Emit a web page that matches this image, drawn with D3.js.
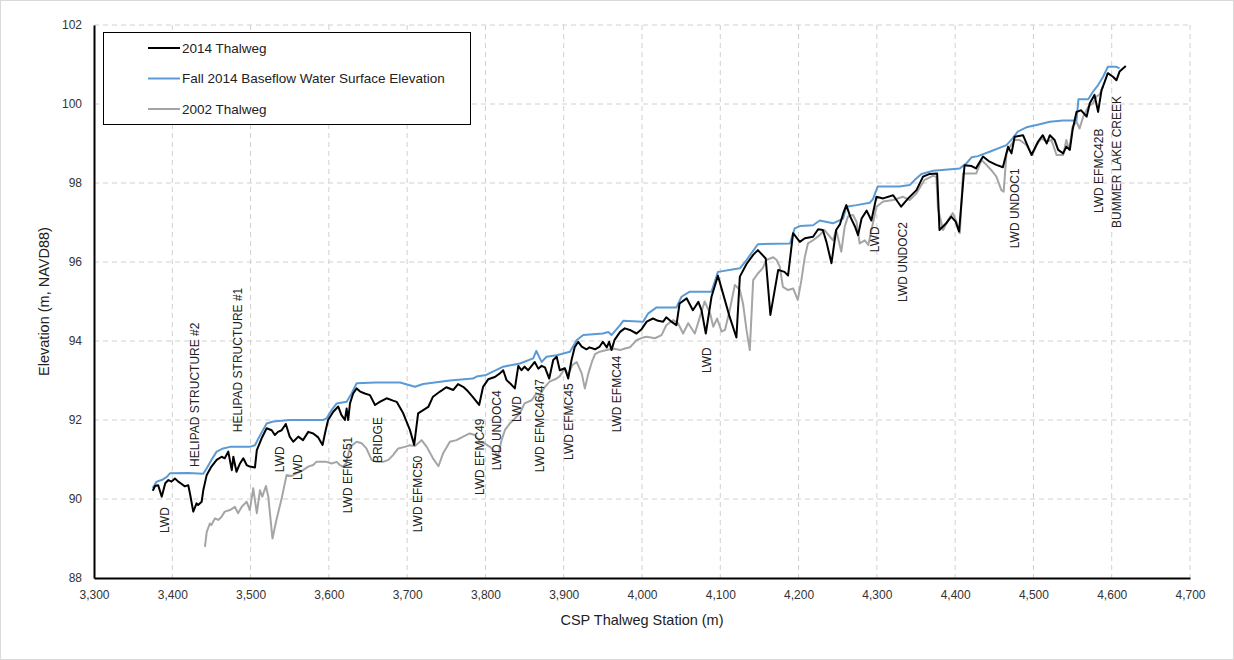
<!DOCTYPE html>
<html>
<head>
  <meta charset="utf-8">
  <title>Thalweg Profile</title>
  <style>
    body { margin: 0; background: #fff; }
    text { font-family: "Liberation Sans", Arial, sans-serif; fill: #222; }
    .grid line { stroke: #d0d0d0; stroke-width: 1; stroke-dasharray: 5,4; }
    .series { fill: none; stroke-width: 2; stroke-linejoin: round; }
    .tick-label { font-size: 12px; fill: #333; }
    .note { font-size: 12px; fill: #222; }
  </style>
</head>
<body>
  <div id="chart"></div>

  <script src="https://cdn.jsdelivr.net/npm/d3@7"></script>
  <script>
    // station (m), elevation (m)
    var thalweg2014 = [
      [3375,90.21],[3378,90.33],[3382,90.35],[3386.5,90.06],[3391,90.40],[3395,90.48],[3399,90.44],[3403.4,90.52],
      [3407.7,90.44],[3412,90.38],[3416,90.32],[3420.4,90.35],[3422.6,90.14],[3426.8,89.68],[3431,89.89],[3433,89.85],
      [3437.5,89.93],[3439.6,90.22],[3444,90.61],[3450,90.82],[3456.7,90.99],[3463,91.07],[3467,91.03],[3471.5,91.2],
      [3476,90.73],[3478,91.07],[3482,90.69],[3486.5,90.9],[3490.7,91.03],[3495,90.86],[3499,90.82],[3505.6,90.80],
      [3508,91.24],[3514,91.53],[3520.5,91.79],[3527,91.74],[3531,91.62],[3535,91.70],[3539.7,91.74],[3545,91.9],
      [3550,91.58],[3554.5,91.45],[3561,91.58],[3567,91.49],[3573.7,91.7],[3580,91.66],[3586.4,91.56],[3592,91.37],
      [3595,91.66],[3599,92.0],[3605.6,92.21],[3612,92.34],[3616,92.13],[3620.5,92.0],[3622.7,92.29],[3624.7,92.0],
      [3627,92.42],[3631,92.67],[3635.5,92.8],[3640,92.72],[3646,92.67],[3652.5,92.63],[3659,92.38],[3665,92.46],
      [3673.8,92.55],[3682,92.49],[3686.6,92.46],[3695,92.17],[3703.5,91.75],[3709,91.37],[3714,92.17],[3720.5,92.25],
      [3727,92.33],[3733,92.59],[3742,92.72],[3750,92.83],[3759,92.76],[3765,92.91],[3771.6,92.84],[3778,92.72],
      [3784,92.58],[3792,92.38],[3797,92.84],[3803.5,93.03],[3812,93.09],[3818.5,93.18],[3822.7,93.26],[3827,93.01],
      [3833.4,92.89],[3837.6,92.8],[3842,93.37],[3846,93.26],[3850,93.35],[3854.6,93.26],[3859,93.37],[3863,93.47],
      [3867.5,93.3],[3871.7,93.37],[3876,93.33],[3881.5,93.05],[3886.6,93.52],[3891,93.6],[3895,93.26],[3901.5,93.31],
      [3905.7,93.05],[3910,93.52],[3914,93.84],[3918.5,93.98],[3923,93.86],[3929,93.79],[3933,93.84],[3940,93.79],
      [3946,93.86],[3950,93.98],[3955,93.84],[3958,93.98],[3961,93.77],[3965,94.03],[3972,94.23],[3978,94.32],
      [3984.5,94.28],[3993,94.19],[3999.5,94.30],[4006,94.49],[4014,94.57],[4020.6,94.51],[4027,94.49],[4031,94.6],
      [4037.6,94.49],[4044,94.40],[4048,94.95],[4057,95.08],[4065,94.78],[4072,94.99],[4076,94.78],[4081.5,94.19],
      [4088.8,95.12],[4097,95.65],[4103.5,95.2],[4112,94.61],[4120.6,94.09],[4125,95.63],[4133.5,95.95],[4142,96.18],
      [4148,96.3],[4158,96.09],[4164,94.66],[4174,95.8],[4182,95.75],[4186.6,95.66],[4193,96.73],[4201.6,96.51],
      [4208,96.6],[4218.5,96.64],[4225,96.83],[4231,96.81],[4235.6,96.51],[4242,95.97],[4248,96.81],[4253,96.96],
      [4257,97.23],[4261,97.44],[4266,97.15],[4272,96.9],[4276,96.68],[4280.5,97.1],[4287,97.3],[4293,97.05],
      [4299.5,97.65],[4308,97.61],[4320.8,97.69],[4331,97.4],[4340,97.61],[4350.6,97.82],[4359,98.16],[4367.6,98.23],
      [4377,98.24],[4380,96.81],[4388.6,96.98],[4395,97.15],[4400.7,97.02],[4405,96.77],[4412,98.45],[4421,98.43],
      [4426.6,98.37],[4435.6,98.67],[4444,98.54],[4452.7,98.46],[4461,98.4],[4467.6,98.92],[4472,98.75],[4476,99.17],
      [4486.7,99.21],[4497.5,98.71],[4506,99.05],[4512,99.21],[4517,99.0],[4521,99.21],[4527,99.09],[4531.6,98.84],
      [4538,98.75],[4542,98.92],[4546.5,98.84],[4550,99.34],[4555,99.8],[4561,99.84],[4568,99.68],[4572,100.02],
      [4578,100.23],[4582.6,99.8],[4587,100.35],[4591,100.56],[4595,100.78],[4601.6,100.69],[4606,100.6],[4610,100.82],
      [4618,100.96]
    ];

    var waterSurface2014 = [
      [3375,90.28],[3380,90.44],[3386.5,90.48],[3393,90.56],[3397,90.65],[3420,90.66],[3439.6,90.64],[3444,90.78],
      [3450,90.99],[3456.7,91.2],[3465,91.28],[3473.7,91.32],[3499,91.32],[3505.6,91.36],[3510,91.53],[3516,91.75],
      [3520.5,91.91],[3529,91.96],[3550,92.0],[3593,92.0],[3597,92.04],[3603.5,92.25],[3610,92.42],[3622.7,92.46],
      [3629,92.67],[3635.5,92.93],[3660,92.95],[3691,92.95],[3710,92.84],[3720.5,92.91],[3754.6,93.0],[3784,93.05],
      [3788.7,93.1],[3801,93.14],[3822.7,93.35],[3844,93.43],[3861,93.56],[3865,93.75],[3871.7,93.47],[3878,93.6],
      [3891,93.64],[3908,93.73],[3916.5,94.02],[3925,94.15],[3950,94.19],[3957,94.23],[3961,94.15],[3972,94.4],
      [3976,94.51],[4001.5,94.49],[4008,94.70],[4018.6,94.85],[4044,94.85],[4050.5,95.12],[4061,95.25],[4088.8,95.25],
      [4097,95.75],[4125,95.84],[4133.5,96.05],[4148,96.45],[4189,96.47],[4195,96.85],[4201.6,96.91],[4218.5,96.93],
      [4227,97.05],[4244,96.98],[4257,97.1],[4261,97.4],[4274,97.44],[4291,97.5],[4295,97.59],[4301,97.91],
      [4329,97.91],[4342,97.95],[4348.5,98.08],[4357,98.23],[4372,98.31],[4406,98.37],[4414.5,98.5],[4421,98.65],
      [4429,98.68],[4444,98.79],[4465.6,98.96],[4472,99.1],[4480,99.3],[4491,99.41],[4504,99.47],[4521,99.55],
      [4538,99.58],[4555,99.58],[4557.5,100.12],[4570,100.12],[4576,100.31],[4582.6,100.48],[4589,100.69],[4595,100.94],
      [4606,100.94],[4610,100.9]
    ];

    var thalweg2002 = [
      [3441.7,88.79],[3444,89.17],[3448,89.38],[3450,89.34],[3454.5,89.51],[3458.7,89.47],[3463,89.55],[3467,89.68],
      [3473.7,89.72],[3480,89.8],[3484,89.64],[3488.6,89.8],[3495,89.93],[3499,89.72],[3503.4,90.27],[3508,89.64],
      [3512,90.22],[3515,90.06],[3519.6,90.33],[3522.6,90.06],[3528,89.0],[3533,89.47],[3539.7,90.01],[3546,90.61],
      [3552,90.58],[3558.8,90.65],[3567,90.73],[3573.7,90.82],[3580,90.86],[3584,90.94],[3597,90.94],[3603.5,90.9],
      [3610,90.94],[3614,90.86],[3618,90.82],[3622,90.9],[3627,91.32],[3635.5,91.45],[3642,91.41],[3648,91.28],
      [3654.6,90.99],[3661,90.94],[3669.5,90.94],[3676,90.99],[3682,91.11],[3688.6,91.28],[3697,91.32],[3703.5,91.36],
      [3710,91.34],[3718.5,91.49],[3725,91.32],[3733,91.03],[3740,90.83],[3746,91.16],[3754.6,91.45],[3763,91.49],
      [3771.6,91.58],[3780,91.66],[3786.6,91.62],[3793,91.45],[3799,91.41],[3805.7,91.32],[3812,91.2],[3816,91.07],
      [3820.6,91.49],[3825,91.75],[3831,91.91],[3837.6,92.04],[3844,92.17],[3850,92.42],[3859,92.5],[3865,92.67],
      [3869.5,92.63],[3876,92.84],[3882,92.97],[3891,93.05],[3895,93.11],[3901.5,93.31],[3905.7,93.14],[3911,93.39],
      [3916.5,93.47],[3923,93.18],[3927,92.8],[3931.5,93.18],[3936,93.47],[3940,93.67],[3946,93.73],[3955,93.77],
      [3963,93.81],[3972,93.77],[3978,93.81],[3984.5,93.84],[3993,94.02],[4001.5,94.09],[4006,94.11],[4016.5,94.07],
      [4025,94.15],[4031,94.4],[4040,94.53],[4046,94.45],[4052.5,94.19],[4059,94.45],[4067.5,94.19],[4074,94.61],
      [4080,95.0],[4087,94.7],[4091,94.36],[4096,94.57],[4101.6,94.24],[4106,94.28],[4112,94.78],[4118.6,95.42],
      [4125,95.29],[4129,94.95],[4133.5,94.28],[4137.7,93.77],[4142,95.54],[4148,95.71],[4154,95.84],[4159,96.05],
      [4167.5,96.12],[4172,96.05],[4176,95.88],[4180,95.37],[4186.6,95.29],[4193,95.33],[4199,95.04],[4203.6,95.54],
      [4208,96.13],[4212,96.47],[4218.5,96.55],[4227,96.68],[4233,96.81],[4240,96.64],[4244,96.55],[4248,96.81],
      [4254.6,96.26],[4259,96.9],[4263,97.15],[4269.6,97.19],[4274,97.02],[4278,96.47],[4284.6,96.55],[4289,96.43],
      [4295,96.98],[4299.5,97.4],[4308,97.53],[4320.8,97.57],[4333.5,97.65],[4342,97.57],[4350.6,97.74],[4361,98.08],
      [4371.6,98.18],[4376,98.16],[4378,97.36],[4384.6,96.81],[4391,97.07],[4397,97.24],[4401.6,97.02],[4406,96.73],
      [4410,98.24],[4418.6,98.24],[4427,98.24],[4433.5,98.58],[4440,98.46],[4446,98.33],[4452.7,98.16],[4459,97.82],
      [4462,97.78],[4465.6,98.75],[4470,98.92],[4476,99.09],[4482.5,99.09],[4491,98.96],[4498.6,98.71],[4504,98.96],
      [4510,99.13],[4517,99.05],[4523,99.09],[4529.5,98.71],[4538,98.71],[4542,99.09],[4545.7,98.84],[4550,99.43],
      [4555,99.55],[4559,99.38],[4563.6,99.68],[4570,99.93],[4576,100.02],[4580.5,100.19],[4584.6,100.24],[4589,100.44]
    ];

    // structure labels: text, station, elevation where the text begins
    var noteText = ["LWD", "HELIPAD STRUCTURE  #2", "HELIPAD STRUCTURE  #1", "LWD", "LWD", "LWD EFMC51", "BRIDGE",
      "LWD EFMC50", "LWD EFMC49", "LWD UNDOC4", "LWD", "LWD EFMC46/47", "LWD EFMC45", "LWD EFMC44", "LWD",
      "LWD", "LWD UNDOC2", "LWD UNDOC1", "LWD EFMC42B", "BUMMER  LAKE CREEK"];
    var noteStation = [3390.7, 3429, 3484, 3537.5, 3560.5, 3624, 3662.7, 3713.8, 3793, 3814.6, 3840, 3869.5,
      3906.6, 3968, 4083, 4297.5, 4333, 4476, 4583, 4606.5];
    var noteElev = [89.14, 90.81, 91.69, 90.68, 90.48, 89.64, 90.91, 89.16, 90.1, 90.73, 91.95, 90.68,
      90.99, 91.69, 93.19, 96.25, 94.99, 96.35, 97.24, 96.86];

    var xTicks = d3.range(3300, 4701, 100);
    var yTicks = d3.range(88, 103, 2);

    var seriesNames = ["2014 Thalweg", "Fall 2014 Baseflow Water Surface Elevation", "2002 Thalweg"];
    var seriesColors = ["#000000", "#5b9bd5", "#a5a5a5"];

    var width = 1234, height = 660;
    var margin = {top: 25, right: 44, bottom: 82, left: 94};

    var svg = d3.select("#chart").append("svg")
      .attr("width", width)
      .attr("height", height);

    svg.append("rect")
      .attr("x", 0.5).attr("y", 0.5)
      .attr("width", width - 1).attr("height", height - 1)
      .attr("fill", "#fff")
      .attr("stroke", "#d9d9d9");

    var x = d3.scaleLinear().domain([3300, 4700]).range([margin.left, width - margin.right]);
    var y = d3.scaleLinear().domain([88, 102]).range([height - margin.bottom, margin.top]);

    // grid
    var grid = svg.append("g").attr("class", "grid");
    grid.selectAll("line.v").data(xTicks.slice(1)).enter().append("line")
      .attr("x1", function(d) { return x(d); }).attr("x2", function(d) { return x(d); })
      .attr("y1", y(102)).attr("y2", y(88));
    grid.selectAll("line.h").data(yTicks.slice(1)).enter().append("line")
      .attr("x1", x(3300)).attr("x2", x(4700))
      .attr("y1", function(d) { return y(d); }).attr("y2", function(d) { return y(d); });

    // axes
    var xAxis = svg.append("g")
      .attr("transform", "translate(0," + y(88) + ")")
      .call(d3.axisBottom(x).tickValues(xTicks).tickFormat(d3.format(",")).tickSize(0).tickPadding(12));
    var yAxis = svg.append("g")
      .attr("transform", "translate(" + x(3300) + ",0)")
      .call(d3.axisLeft(y).tickValues(yTicks).tickFormat(d3.format("d")).tickSize(0).tickPadding(12));
    [xAxis, yAxis].forEach(function(a) {
      a.select(".domain").attr("stroke", "#000").attr("stroke-width", 2);
      a.selectAll("text").attr("class", "tick-label").style("font-family", null).style("font-size", null);
      a.attr("font-family", null).attr("font-size", null);
    });

    svg.append("text")
      .attr("x", x(4000)).attr("y", 625)
      .attr("text-anchor", "middle")
      .style("font-size", "14.5px")
      .text("CSP Thalweg Station (m)");

    svg.append("text")
      .attr("transform", "translate(49," + y(95) + ") rotate(-90)")
      .attr("text-anchor", "middle")
      .style("font-size", "14.5px")
      .text("Elevation (m, NAVD88)");

    // lines
    var line = d3.line()
      .x(function(d) { return x(d[0]); })
      .y(function(d) { return y(d[1]); });

    [thalweg2002, waterSurface2014, thalweg2014].forEach(function(s, i) {
      var c = [seriesColors[2], seriesColors[1], seriesColors[0]][i];
      svg.append("path")
        .datum(s)
        .attr("class", "series")
        .attr("stroke", c)
        .attr("d", line);
    });

    // structure labels
    svg.selectAll("text.note").data(noteText).enter().append("text")
      .attr("class", "note")
      .attr("transform", function(d, i) {
        return "translate(" + x(noteStation[i]) + "," + y(noteElev[i]) + ") rotate(-90)";
      })
      .attr("dy", "0.35em")
      .text(function(d) { return d; });

    // legend
    var legend = svg.append("g");
    legend.append("rect")
      .attr("x", 103.5).attr("y", 32.5)
      .attr("width", 367).attr("height", 92)
      .attr("fill", "#fff")
      .attr("stroke", "#000");
    seriesNames.forEach(function(n, i) {
      var ly = 48 + i * 30.5;
      legend.append("line")
        .attr("x1", 148).attr("x2", 180)
        .attr("y1", ly).attr("y2", ly)
        .attr("stroke", seriesColors[i]).attr("stroke-width", 2);
      legend.append("text")
        .attr("x", 182).attr("y", ly)
        .attr("dy", "0.35em")
        .style("font-size", "13.5px")
        .text(n);
    });
  </script>
</body>
</html>
